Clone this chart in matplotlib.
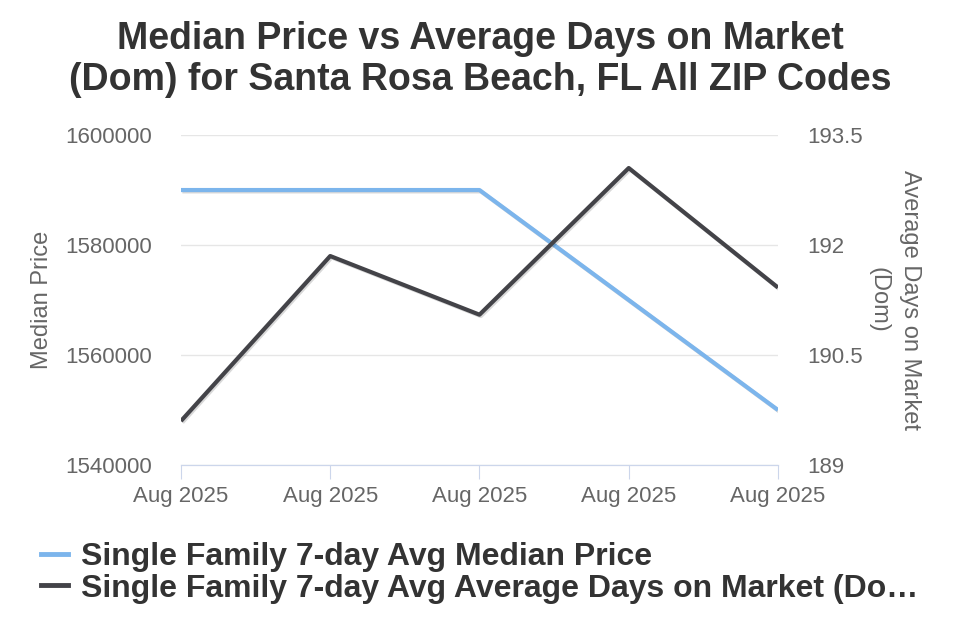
import matplotlib.pyplot as plt
import matplotlib.patheffects as pe
import matplotlib.ticker as ticker
from matplotlib.lines import Line2D

plt.rcParams['font.family'] = ['Liberation Sans', 'DejaVu Sans']

# data
dates = ["Aug 2025", "Aug 2025", "Aug 2025", "Aug 2025", "Aug 2025"]
median_price = [1590000, 1590000, 1590000, 1570000, 1550000]
avg_dom = [189.6, 191.85, 191.05, 193.05, 191.42]

price_label = "Single Family 7-day Avg Median Price"
dom_label = "Single Family 7-day Avg Average Days on Market (Do\u2026"

blue = "#7cb5ec"
dark = "#434348"
grey = "#666666"

fig = plt.figure(figsize=(9.6, 6.4), dpi=100)
ax = fig.add_axes([0.1885, 0.2734, 0.6219, 0.5156])
ax2 = ax.twinx()

x = list(range(len(dates)))
shadow = [pe.SimpleLineShadow(offset=(1, -1), alpha=0.15, shadow_color="black"), pe.Normal()]
ax.plot(x, median_price, color=blue, lw=3, solid_capstyle="butt", path_effects=shadow, zorder=3)
ax2.plot(x, avg_dom, color=dark, lw=3, solid_capstyle="butt", path_effects=shadow, zorder=3)

ax.set_xlim(0, len(dates) - 1)
ax.set_ylim(1540000, 1600000)
ax.set_yticks([1540000, 1560000, 1580000, 1600000])
ax.yaxis.set_major_formatter(ticker.FuncFormatter(lambda v, p: format(int(v), 'd')))
ax2.set_ylim(189, 193.5)
ax2.set_yticks([189, 190.5, 192, 193.5])
ax2.set_yticklabels(["189", "190.5", "192", "193.5"])

ax.grid(axis="y", color="#e6e6e6", lw=1)
ax.set_axisbelow(True)
for a in (ax, ax2):
    for s in ("top", "left", "right"):
        a.spines[s].set_visible(False)
    a.spines["bottom"].set_color("#ccd6eb")
ax.tick_params(axis="y", length=0, labelsize=16, labelcolor=grey, pad=21)
ax2.tick_params(axis="y", length=0, labelsize=16, labelcolor=grey, pad=21)
ax.set_xticks(x)
ax.set_xticklabels(dates)
ax.tick_params(axis="x", length=10, color="#ccd6eb", labelsize=16, labelcolor=grey, pad=5)

ax.set_ylabel("Median Price", fontsize=17, color=grey, labelpad=9)
ax2.set_ylabel("Average Days on Market\n(Dom)", fontsize=17, color=grey,
               rotation=270, labelpad=42, linespacing=1.55)

fig.suptitle("Median Price vs Average Days on Market\n(Dom) for Santa Rosa Beach, FL All ZIP Codes",
             x=0.5, y=0.967, fontsize=27, fontweight="bold", color="#333333", linespacing=1.16)

handles = [Line2D([], [], color=blue, lw=3.5), Line2D([], [], color=dark, lw=3.5)]
fig.legend(handles, [price_label, dom_label], loc="upper left", bbox_to_anchor=(41 / 960, 0.153),
           frameon=False, handlelength=0.85, handletextpad=0.4, labelspacing=0.05,
           borderpad=0, borderaxespad=0,
           prop={"size": 23, "weight": "bold"}, labelcolor="#333333")

fig.savefig("out.png", dpi=100)
